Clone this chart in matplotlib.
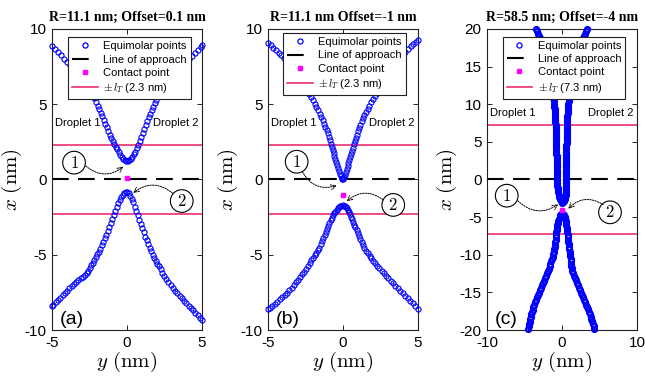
import matplotlib
matplotlib.use('Agg')
import matplotlib.pyplot as plt
from matplotlib.lines import Line2D

plt.rcParams['mathtext.fontset'] = 'cm'
plt.rcParams['axes.unicode_minus'] = False
plt.rcParams['font.family'] = ['Liberation Sans', 'DejaVu Sans']

# ---------------- data ----------------
titles = ["R=11.1 nm; Offset=0.1 nm", "R=11.1 nm Offset=-1 nm", "R=58.5 nm; Offset=-4 nm"]
panel_labels = ["(a)", "(b)", "(c)"]
lT_values = [2.3, 2.3, 7.3]
contact_x = [0.1, -1.0, -4.0]
contact_y = [0.0, 0.0, 0.0]

# panel (a) upper branch (y, x)
a_up_y = [-5.00,-4.80,-4.60,-4.40,-4.20,-4.00,-3.80,-3.60,-3.40,-3.20,-3.00,-2.80,-2.60,-2.40,-2.20,
          -2.05,-1.95,-1.85,-1.75,-1.65,-1.55,-1.45,-1.35,-1.25,-1.15,-1.05,-0.95,-0.85,-0.75,-0.65,-0.55,-0.45,-0.35,-0.25,-0.15,-0.05,
          0.05,0.15,0.25,0.35,0.45,0.55,0.65,0.75,0.85,0.95,1.05,1.15,1.25,1.35,1.45,1.55,1.65,1.75,1.85,1.95,
          2.10,2.30,2.50,2.70,2.90,3.10,3.30,3.50,3.70,3.90,4.10,4.30,4.50,4.70,4.90,5.00]
a_up_x = [8.85,8.65,8.45,8.24,8.03,7.82,7.59,7.36,7.12,6.87,6.61,6.33,6.04,5.73,5.41,
          5.12,4.90,4.68,4.45,4.21,3.97,3.72,3.47,3.22,2.97,2.74,2.53,2.36,2.18,2.00,1.82,1.65,1.50,1.38,1.28,1.23,
          1.23,1.28,1.38,1.51,1.67,1.86,2.07,2.30,2.55,2.82,3.09,3.36,3.62,3.87,4.12,4.37,4.61,4.85,5.07,5.26,
          5.52,5.83,6.12,6.40,6.66,6.91,7.15,7.38,7.60,7.81,8.01,8.21,8.41,8.61,8.82,8.94]
# panel (a) lower branch
a_lo_y = [-5.00,-4.90,-4.75,-4.60,-4.45,-4.30,-4.15,-4.00,-3.85,-3.70,-3.55,-3.40,-3.25,-3.10,-2.95,-2.80,
          -2.68,-2.58,-2.48,-2.38,-2.28,-2.18,-2.08,-1.98,-1.88,-1.78,-1.68,-1.58,-1.48,-1.38,-1.28,-1.18,-1.08,-0.98,-0.88,-0.78,-0.68,-0.58,-0.48,-0.38,-0.28,-0.18,-0.08,
          0.02,0.12,0.22,0.32,0.42,0.52,0.62,0.72,0.82,0.92,1.02,1.12,1.22,1.32,1.42,1.52,1.62,1.72,1.82,1.92,2.02,2.12,
          2.24,2.36,2.48,2.62,2.76,2.90,3.05,3.20,3.35,3.50,3.65,3.80,3.95,4.10,4.25,4.40,4.55,4.70,4.85,5.00]
a_lo_x = [-8.42,-8.32,-8.17,-8.01,-7.85,-7.69,-7.53,-7.38,-7.23,-7.09,-6.95,-6.82,-6.69,-6.57,-6.45,-6.33,
          -6.20,-6.05,-5.88,-5.70,-5.52,-5.34,-5.16,-4.98,-4.79,-4.59,-4.38,-4.15,-3.91,-3.66,-3.40,-3.14,-2.87,-2.60,-2.33,-2.07,-1.82,-1.58,-1.36,-1.17,-1.01,-0.90,-0.84,
          -0.85,-0.93,-1.07,-1.27,-1.52,-1.80,-2.09,-2.38,-2.67,-2.96,-3.24,-3.52,-3.79,-4.05,-4.30,-4.54,-4.77,-4.99,-5.20,-5.40,-5.59,-5.77,
          -5.98,-6.21,-6.42,-6.64,-6.84,-7.03,-7.22,-7.40,-7.57,-7.74,-7.90,-8.06,-8.22,-8.38,-8.54,-8.70,-8.86,-9.02,-9.18,-9.34]

# panel (b) upper branch
b_up_y = [-5.00,-4.82,-4.64,-4.46,-4.29,-4.12,-3.96,-3.80,-3.64,-3.48,-3.32,-3.16,-3.01,-2.86,-2.71,-2.56,-2.42,-2.28,-2.15,-2.02,
          -1.90,-1.78,-1.67,-1.56,-1.46,-1.36,-1.27,-1.18,-1.10,-1.02,-0.95,-0.88,-0.81,-0.75,-0.69,-0.63,-0.57,-0.51,-0.45,-0.39,
          -0.33,-0.27,-0.21,-0.15,-0.10,-0.05,
          -0.03,0.02,0.07,0.12,0.18,0.24,0.30,0.36,0.42,0.48,0.54,0.60,0.66,0.72,0.78,0.85,0.92,0.99,1.07,1.15,
          1.24,1.33,1.43,1.53,1.64,1.75,1.87,1.99,2.12,2.25,2.39,2.53,2.67,2.81,2.95,3.09,3.23,3.37,3.52,3.67,
          3.83,3.99,4.16,4.33,4.50,4.67,4.84,5.00]
b_up_x = [9.08,8.92,8.75,8.58,8.41,8.24,8.06,7.87,7.67,7.46,7.25,7.03,6.81,6.59,6.36,6.13,5.91,5.69,5.47,5.25,
          5.03,4.81,4.59,4.37,4.15,3.93,3.72,3.50,3.29,3.07,2.85,2.62,2.39,2.18,1.97,1.76,1.55,1.35,1.15,0.95,
          0.75,0.56,0.38,0.22,0.10,0.02,
          0.01,0.08,0.19,0.33,0.51,0.70,0.90,1.10,1.30,1.50,1.70,1.91,2.12,2.33,2.54,2.77,2.99,3.21,3.43,3.65,
          3.86,4.07,4.28,4.49,4.70,4.91,5.12,5.33,5.54,5.75,5.97,6.19,6.41,6.63,6.85,7.07,7.29,7.51,7.72,7.93,
          8.13,8.32,8.50,8.67,8.84,9.00,9.15,9.30]
# panel (b) lower branch
b_lo_y = [-5.00,-4.88,-4.71,-4.54,-4.37,-4.20,-4.04,-3.88,-3.72,-3.57,-3.42,-3.27,-3.13,-2.99,-2.85,-2.72,-2.59,-2.47,-2.35,-2.23,
          -2.12,-2.01,-1.90,-1.79,-1.68,-1.58,-1.48,-1.39,-1.31,-1.23,-1.15,-1.07,-0.99,-0.91,-0.83,-0.75,-0.67,-0.59,-0.51,-0.43,
          -0.35,-0.27,-0.19,-0.11,-0.03,
          0.05,0.12,0.19,0.26,0.33,0.40,0.47,0.54,0.61,0.68,0.75,0.82,0.90,0.98,1.06,1.15,1.24,1.33,1.43,1.54,
          1.65,1.77,1.89,2.02,2.15,2.29,2.43,2.57,2.72,2.87,3.02,3.17,3.33,3.49,3.65,3.81,3.97,4.14,4.31,4.48,
          4.65,4.82,5.00]
b_lo_x = [-8.62,-8.52,-8.39,-8.25,-8.11,-7.97,-7.82,-7.67,-7.51,-7.35,-7.18,-7.01,-6.84,-6.67,-6.49,-6.31,-6.12,-5.93,-5.74,-5.55,
          -5.37,-5.19,-5.02,-4.86,-4.70,-4.52,-4.31,-4.10,-3.90,-3.69,-3.48,-3.27,-3.07,-2.88,-2.70,-2.53,-2.38,-2.25,-2.13,-2.02,
          -1.92,-1.84,-1.78,-1.74,-1.72,
          -1.74,-1.78,-1.84,-1.92,-2.03,-2.16,-2.31,-2.47,-2.64,-2.82,-3.00,-3.18,-3.38,-3.58,-3.78,-3.98,-4.18,-4.37,-4.56,-4.74,
          -4.91,-5.08,-5.24,-5.40,-5.56,-5.72,-5.88,-6.05,-6.22,-6.39,-6.56,-6.73,-6.90,-7.07,-7.24,-7.41,-7.57,-7.73,-7.89,-8.05,
          -8.23,-8.41,-8.60]

# panel (c) upper branch
c_up_x = [20.0,19.7,19.4,19.1,18.8,18.4,18.0,17.6,17.2,16.8,16.4,16.0,15.6,15.2,14.8,14.4,14.0,13.6,13.2,12.8,12.4,12.0,11.6,11.2,10.8,10.4,10.0,
          9.7,9.4,9.1,8.8,8.5,8.2,7.9,7.6,7.3,7.0,6.7,6.4,6.1,5.8,5.5,5.2,4.9,4.6,4.3,4.0,3.7,3.4,3.1,2.8,2.5,2.2,1.9,1.6,1.3,1.0,0.7,0.4,0.1,
          -0.2,-0.5,-0.8,-1.1,-1.4,-1.7,-2.0,-2.3,-2.55,-2.75,-2.92,-3.05,-3.12,
          -3.05,-2.92,-2.75,-2.55,-2.3,-2.0,-1.7,-1.4,-1.1,-0.8,-0.5,-0.2,0.1,0.4,0.7,1.0,1.3,1.6,1.9,2.2,
          2.5,2.8,3.1,3.4,3.7,4.0,4.3,4.6,4.9,5.2,5.5,5.8,6.1,6.4,6.7,7.0,7.3,7.6,7.9,8.2,
          8.5,8.8,9.1,9.4,9.7,10.0,10.4,10.8,11.2,11.6,12.0,12.4,12.8,13.2,13.6,14.0,14.4,14.8,15.2,15.6,
          16.0,16.4,16.8,17.2,17.6,18.0,18.4,18.8,19.1,19.4,19.7,20.0]
c_up_y = [-3.50,-3.36,-3.22,-3.08,-2.95,-2.80,-2.66,-2.53,-2.40,-2.28,-2.17,-2.06,-1.96,-1.87,-1.78,-1.70,-1.62,-1.55,-1.48,-1.42,-1.36,-1.30,-1.25,-1.20,-1.15,-1.10,-1.06,
          -1.03,-1.00,-0.97,-0.95,-0.93,-0.91,-0.89,-0.87,-0.85,-0.84,-0.83,-0.82,-0.81,-0.80,-0.79,-0.78,-0.77,-0.76,-0.75,-0.75,-0.74,-0.74,-0.73,-0.73,-0.72,-0.72,-0.71,-0.71,-0.70,-0.70,-0.69,-0.68,-0.67,
          -0.66,-0.64,-0.62,-0.59,-0.55,-0.50,-0.44,-0.36,-0.27,-0.18,-0.09,0.00,0.06,
          0.14,0.22,0.30,0.37,0.43,0.47,0.50,0.52,0.53,0.54,0.54,0.55,0.55,0.55,0.55,0.56,0.56,0.56,0.56,0.57,
          0.57,0.57,0.58,0.58,0.58,0.59,0.59,0.59,0.60,0.60,0.61,0.61,0.62,0.63,0.64,0.65,0.66,0.67,0.69,0.71,
          0.73,0.75,0.77,0.80,0.83,0.86,0.90,0.95,1.00,1.05,1.11,1.17,1.24,1.31,1.38,1.46,1.54,1.63,1.72,1.82,
          1.92,2.03,2.14,2.26,2.38,2.51,2.64,2.78,2.90,3.02,3.15,3.28]
# panel (c) lower branch
c_lo_y = [-4.50,-4.44,-4.38,-4.31,-4.24,-4.16,-4.08,-4.00,-3.91,-3.82,-3.72,-3.61,-3.49,-3.36,-3.22,-3.08,-2.94,-2.80,-2.66,-2.52,
          -2.39,-2.26,-2.13,-2.01,-1.89,-1.77,-1.65,-1.54,-1.43,-1.33,-1.24,-1.16,-1.09,-1.03,-0.98,-0.94,-0.90,-0.86,-0.82,-0.78,
          -0.74,-0.70,-0.66,-0.61,-0.56,-0.50,-0.42,-0.33,-0.22,-0.10,0.04,
          0.16,0.27,0.36,0.43,0.49,0.54,0.58,0.62,0.66,0.70,0.74,0.78,0.82,0.86,0.90,0.94,0.98,1.02,1.06,1.10,
          1.14,1.18,1.22,1.26,1.31,1.37,1.46,1.57,1.69,1.82,1.95,2.08,2.22,2.36,2.50,2.64,2.78,2.92,3.06,3.20,
          3.33,3.46,3.58,3.70,3.81,3.92,4.02,4.12,4.21,4.30]
c_lo_x = [-19.84,-19.52,-19.20,-18.88,-18.56,-18.24,-17.92,-17.60,-17.28,-16.96,-16.64,-16.32,-16.00,-15.68,-15.36,-15.04,-14.72,-14.40,-14.08,-13.76,
          -13.44,-13.12,-12.80,-12.48,-12.16,-11.84,-11.52,-11.20,-10.88,-10.56,-10.24,-9.92,-9.60,-9.28,-8.96,-8.64,-8.32,-8.00,-7.68,-7.36,
          -7.04,-6.72,-6.40,-6.08,-5.78,-5.48,-5.20,-4.95,-4.75,-4.62,-4.55,
          -4.58,-4.72,-4.92,-5.17,-5.45,-5.75,-6.06,-6.38,-6.70,-7.02,-7.34,-7.66,-7.98,-8.30,-8.62,-8.94,-9.26,-9.58,-9.90,-10.22,
          -10.54,-10.86,-11.18,-11.50,-11.82,-12.14,-12.46,-12.78,-13.10,-13.42,-13.74,-14.06,-14.38,-14.70,-15.02,-15.34,-15.66,-15.98,-16.30,-16.62,
          -16.94,-17.26,-17.58,-17.90,-18.22,-18.54,-18.86,-19.18,-19.50,-19.82]

branches = [[(a_up_y, a_up_x), (a_lo_y, a_lo_x)],
            [(b_up_y, b_up_x), (b_lo_y, b_lo_x)],
            [(c_up_y, c_up_x), (c_lo_y, c_lo_x)]]

xlims = [(-5, 5), (-5, 5), (-10, 10)]
ylims = [(-10, 10), (-10, 10), (-20, 20)]
xticks = [[-5, 0, 5], [-5, 0, 5], [-10, 0, 10]]
yticks = [[-10, -5, 0, 5, 10], [-10, -5, 0, 5, 10], [-20, -15, -10, -5, 0, 5, 10, 15, 20]]

# circled labels (y, x) and arrows (start, end)
circle1_pos = [(-3.53, 1.12), (-3.09, 1.18), (-7.37, -2.15)]
circle2_pos = [(3.65, -1.43), (3.35, -1.69), (6.40, -4.36)]
arrow1 = [((-2.75, 0.90), (-0.25, 0.85)), ((-2.70, 0.50), (-0.42, -0.40)), ((-5.90, -2.82), (-0.50, -3.30))]
arrow2 = [((3.05, -0.92), (0.42, -0.89)), ((2.69, -1.36), (0.25, -1.45)), ((5.50, -3.35), (0.84, -3.88))]

# ---------------- layout ----------------
W, H = 645, 385
fig = plt.figure(figsize=(W / 100, H / 100), dpi=100)
axes_px = [(52, 29, 150, 301), (268, 29, 150, 301), (487, 29, 150, 301)]
legend_anchor = [(0.109, 0.972), (0.102, 0.986), (0.105, 0.974)]
droplet_y = [0.678, 0.678, 0.711]
marker_ew = [0.8, 0.8, 1.5]

pink = '#EE2C72'
blue = '#0000FF'
for i in range(3):
    l, t, w, h = axes_px[i]
    ax = fig.add_axes([l / W, 1 - (t + h) / H, w / W, h / H])
    lt = lT_values[i]
    ax.axhline(lt, color=pink, lw=1.2, zorder=2)
    ax.axhline(-lt, color=pink, lw=1.2, zorder=2)
    ax.axhline(0, color='black', lw=1.5, ls=(0, (8, 4.5)), zorder=2)
    for (yy, xx) in branches[i]:
        ax.plot(yy, xx, 'o', ls='none', mfc='none', mec=blue, ms=3.7, mew=marker_ew[i],
                clip_on=False, zorder=3)
    ax.plot(contact_y[i], contact_x[i], 's', color='#FF00FF', ms=3.2, zorder=4)

    ax.set_xlim(*xlims[i])
    ax.set_ylim(*ylims[i])
    ax.set_xticks(xticks[i])
    ax.set_yticks(yticks[i])
    ax.tick_params(direction='in', length=3.5, width=0.7, top=True, right=True,
                   labelsize=11, pad=4, colors='#222222', labelcolor='black')
    for s in ax.spines.values():
        s.set_linewidth(0.8)
        s.set_color('#222222')

    ax.set_title(titles[i], fontfamily='Liberation Serif', fontweight='bold', fontsize=10, pad=6)
    ax.set_xlabel(r'$y\ \mathrm{(nm)}$', fontsize=15, labelpad=0)
    ax.set_ylabel(r'$x\ \mathrm{(nm)}$', fontsize=15, labelpad=0)

    handles = [Line2D([], [], marker='o', ls='none', mfc='none', mec=blue, ms=3.7, mew=0.9),
               Line2D([], [], color='black', lw=1.5, ls=(0, (8, 4.5))),
               Line2D([], [], marker='s', ls='none', color='#FF00FF', ms=3.2),
               Line2D([], [], color=pink, lw=1.2)]
    labels = ['Equimolar points', 'Line of approach', 'Contact point', r'$\pm\,l_T$ (%.1f nm)' % lt]
    leg = ax.legend(handles, labels, loc='upper left', bbox_to_anchor=legend_anchor[i],
                    fontsize=8, frameon=True, fancybox=False, framealpha=1, edgecolor='#222222',
                    borderpad=0.35, labelspacing=0.3, handlelength=2.3, handletextpad=0.5,
                    borderaxespad=0)
    leg.get_frame().set_linewidth(0.8)
    leg.set_zorder(10)

    ax.text(0.02, droplet_y[i], 'Droplet 1', transform=ax.transAxes, fontsize=8, ha='left', va='baseline')
    ax.text(0.975, droplet_y[i], 'Droplet 2', transform=ax.transAxes, fontsize=8, ha='right', va='baseline')
    ax.text(0.05, 0.02, panel_labels[i], transform=ax.transAxes, fontsize=14, ha='left', va='baseline', zorder=6)

    for (cy, cx), txt in ((circle1_pos[i], '1'), (circle2_pos[i], '2')):
        ax.text(cy, cx, '$%s$' % txt, fontsize=12, ha='center', va='center', zorder=6,
                bbox=dict(boxstyle='circle,pad=0.2', fc='white', ec='black', lw=0.8))
    for (s, e) in (arrow1[i], arrow2[i]):
        ax.annotate('', xy=e, xytext=s, zorder=6,
                    arrowprops=dict(arrowstyle='->,head_length=0.35,head_width=0.18', ls=(0, (1.5, 1.2)),
                                    lw=0.7, color='black', connectionstyle='arc3,rad=0.4',
                                    shrinkA=0, shrinkB=0))

fig.savefig('out.png', dpi=100)
